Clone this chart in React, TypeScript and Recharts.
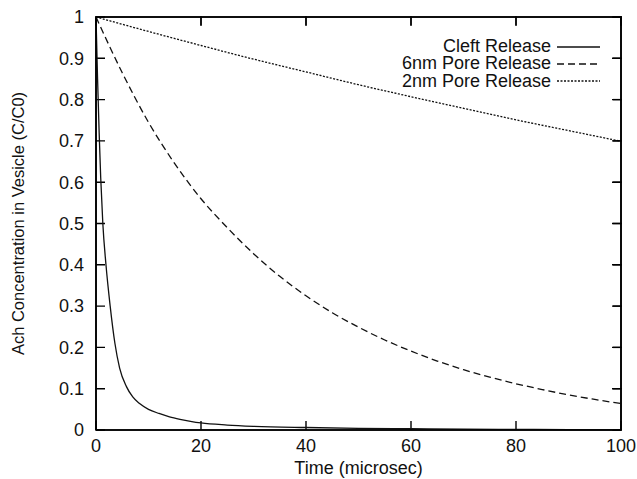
import React from 'react';
import { LineChart, Line, XAxis, YAxis, ReferenceLine, ReferenceArea } from 'recharts';

const CLEFT_T = [0, 0.3, 0.6, 0.9, 1.3, 1.9, 2.7, 3.6, 4.5, 5.8, 7, 8.3, 10, 12, 14, 16, 18, 20, 25, 30, 40, 50, 60, 70, 80, 90, 100];
const CLEFT_C = [1, 0.85, 0.72, 0.61, 0.5, 0.4, 0.3, 0.21, 0.15, 0.105, 0.08, 0.064, 0.05, 0.04, 0.032, 0.026, 0.021, 0.017, 0.012, 0.009, 0.006, 0.004, 0.003, 0.002, 0.0015, 0.001, 0.001];

const PORE6_T = [0, 5, 10, 15, 20, 25, 30, 35, 40, 45, 50, 55, 60, 65, 70, 75, 80, 85, 90, 95, 100];
const PORE6_C = [1, 0.865, 0.745, 0.645, 0.56, 0.49, 0.427, 0.372, 0.325, 0.284, 0.249, 0.218, 0.191, 0.167, 0.146, 0.128, 0.112, 0.098, 0.085, 0.074, 0.064];

const PORE2_T = [0, 10, 20, 30, 40, 50, 60, 70, 80, 90, 100];
const PORE2_C = [1, 0.965, 0.931, 0.898, 0.867, 0.836, 0.807, 0.779, 0.751, 0.725, 0.699];

const X_TICKS = [0, 20, 40, 60, 80, 100];
const Y_TICKS = [0, 0.1, 0.2, 0.3, 0.4, 0.5, 0.6, 0.7, 0.8, 0.9, 1];

const X_TITLE = 'Time (microsec)';
const Y_TITLE = 'Ach Concentration in Vesicle (C/C0)';

const SERIES_NAMES = ['Cleft Release', '6nm Pore Release', '2nm Pore Release'];
const SERIES_KEYS = ['cleft', 'pore6', 'pore2'];
const SERIES_DASH = ['', '7 4', '2 1.5'];

// one table keyed by time, built from the series arrays above
const buildTable = () => {
  const rows = new Map<number, any>();
  const add = (ts: number[], cs: number[], key: string) =>
    ts.forEach((t, i) => {
      const r = rows.get(t) || { t };
      r[key] = cs[i];
      rows.set(t, r);
    });
  add(CLEFT_T, CLEFT_C, SERIES_KEYS[0]);
  add(PORE6_T, PORE6_C, SERIES_KEYS[1]);
  add(PORE2_T, PORE2_C, SERIES_KEYS[2]);
  return Array.from(rows.values()).sort((a, b) => a.t - b.t);
};
const TABLE = buildTable();

const SERIES = SERIES_NAMES.map((name, i) => ({ name, key: SERIES_KEYS[i], dash: SERIES_DASH[i] }));

const FONT = '"Liberation Sans", Arial, Helvetica, sans-serif';
const INK = '#111';
const TICK_LEN = 9;

// inward tick marks at both ends of a horizontal reference line (left & right borders)
const yTickMarks = (p: any) => {
  const x1 = Math.min(Number(p.x1), Number(p.x2));
  const x2 = Math.max(Number(p.x1), Number(p.x2));
  const y = Number(p.y1);
  return <path d={`M${x1},${y}h${TICK_LEN}M${x2},${y}h${-TICK_LEN}`} stroke="#000" strokeWidth={1.4} fill="none" />;
};

// inward tick marks at both ends of a vertical reference line (bottom & top borders)
const xTickMarks = (p: any) => {
  const x = Number(p.x1);
  const top = Math.min(Number(p.y1), Number(p.y2));
  const bottom = Math.max(Number(p.y1), Number(p.y2));
  return <path d={`M${x},${top}v${TICK_LEN}M${x},${bottom}v${-TICK_LEN}`} stroke="#000" strokeWidth={1.4} fill="none" />;
};

// mirrored axes: inward tick marks only
const topTick = (p: any) => <path d={`M${p.x},${Number(p.y) + 1}v${TICK_LEN}`} stroke="#000" strokeWidth={1.4} fill="none" />;
const rightTick = (p: any) => <path d={`M${Number(p.x) - 1},${p.y}h${-TICK_LEN}`} stroke="#000" strokeWidth={1.4} fill="none" />;

const LegendBox = () => (
  <div style={{ position: 'absolute', top: 38, right: 37, fontFamily: FONT, fontSize: 18, color: INK, pointerEvents: 'none' }}>
    {SERIES.map((s) => (
      <div key={s.name} style={{ display: 'flex', justifyContent: 'flex-end', alignItems: 'center', height: 17.3, lineHeight: '17.3px', whiteSpace: 'nowrap' }}>
        <span>{s.name}</span>
        <svg width={43} height={10} style={{ marginLeft: 6 }}>
          <line x1={0} y1={5} x2={43} y2={5} stroke={INK} strokeWidth={1.3} strokeDasharray={s.dash || undefined} />
        </svg>
      </div>
    ))}
  </div>
);

export default function App() {
  const tickStyle = { fontFamily: FONT, fontSize: 18, fill: INK };
  const axisLine = { stroke: '#000', strokeWidth: 1.6 };
  return (
    <div style={{ position: 'absolute', left: 0, top: 0 }}>
      <LineChart width={637} height={479} data={TABLE} margin={{ top: 16, right: 15, bottom: 0, left: 0 }}>
        <XAxis
          dataKey="t"
          type="number"
          domain={[0, 100]}
          ticks={X_TICKS}
          height={49}
          tickSize={0}
          tickMargin={9}
          tick={tickStyle}
          tickLine={false}
          axisLine={axisLine}
          label={{ value: X_TITLE, position: 'insideBottom', offset: 5, style: { fontFamily: FONT, fontSize: 18, fill: INK } }}
        />
        <XAxis
          xAxisId="top"
          dataKey="t"
          orientation="top"
          type="number"
          domain={[0, 100]}
          ticks={X_TICKS}
          height={1}
          tickSize={0}
          tick={topTick}
          tickLine={false}
          axisLine={axisLine}
        />
        <YAxis
          type="number"
          domain={[0, 1]}
          ticks={Y_TICKS}
          width={96}
          tickSize={0}
          tickMargin={12}
          tick={tickStyle}
          tickLine={false}
          axisLine={axisLine}
          label={{ value: Y_TITLE, angle: -90, position: 'insideLeft', offset: 18, style: { fontFamily: FONT, fontSize: 16.5, fill: INK, textAnchor: 'middle' } }}
        />
        <YAxis
          yAxisId="r"
          orientation="right"
          type="number"
          domain={[0, 1]}
          ticks={Y_TICKS}
          width={1}
          tickSize={0}
          tick={rightTick}
          tickLine={false}
          axisLine={axisLine}
        />
        <ReferenceArea x1={0} x2={100} y1={0} y2={1} fill="#fff" fillOpacity={0} stroke="#000" strokeWidth={1.6} />
        {Y_TICKS.map((v) => (
          <ReferenceLine key={`y${v}`} y={v} stroke="#000" shape={yTickMarks} />
        ))}
        {X_TICKS.map((v) => (
          <ReferenceLine key={`x${v}`} x={v} stroke="#000" shape={xTickMarks} />
        ))}
        {SERIES.map((s, i) => (
          <Line
            key={s.name}
            dataKey={s.key}
            name={s.name}
            xAxisId={i === 0 ? 'top' : 0}
            yAxisId={i === 0 ? 'r' : 0}
            type="monotone"
            connectNulls
            stroke={INK}
            strokeWidth={1.3}
            strokeDasharray={s.dash || undefined}
            dot={false}
            isAnimationActive={false}
          />
        ))}
      </LineChart>
      <LegendBox />
    </div>
  );
}
